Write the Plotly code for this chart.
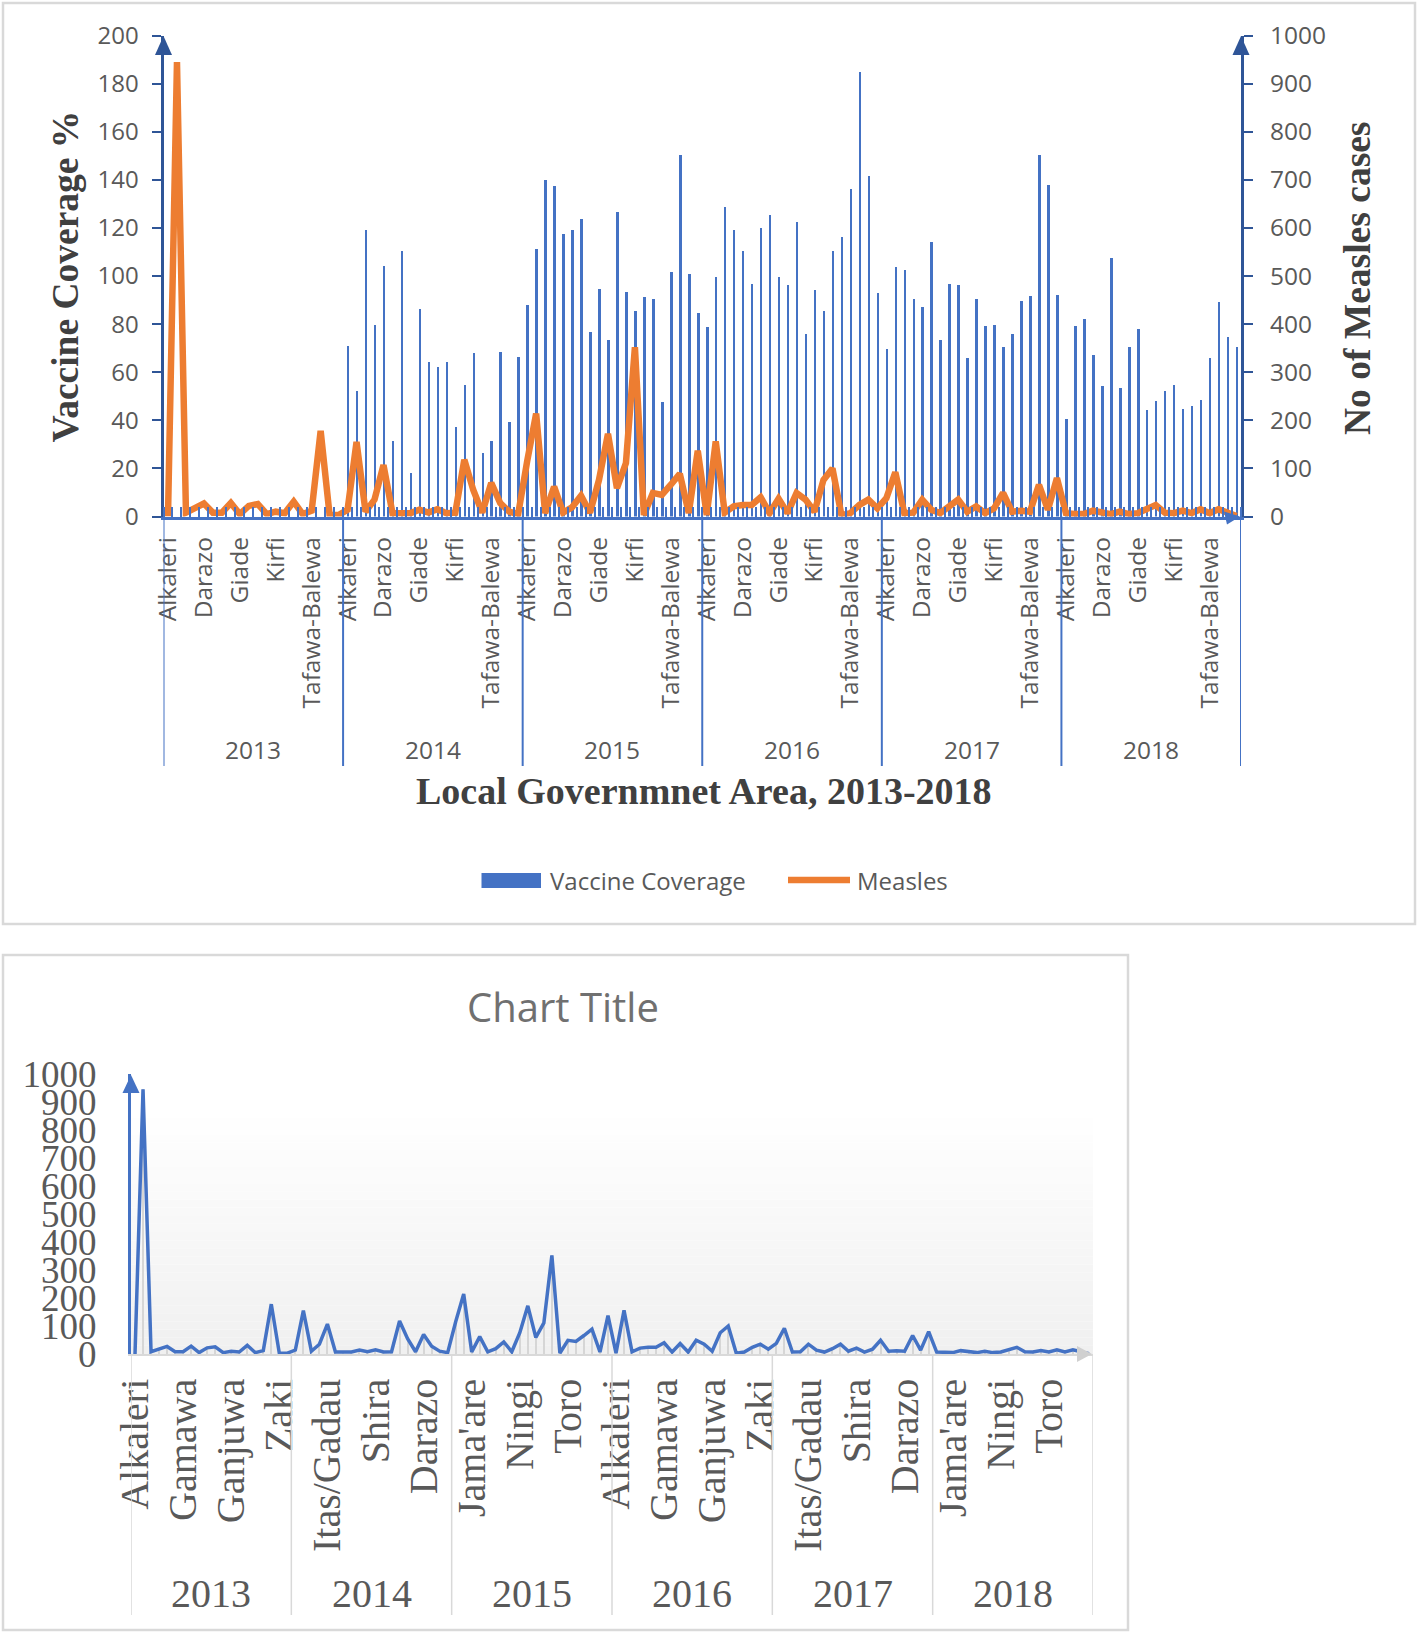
import numpy as np
import plotly.graph_objects as go

W, H = 1418, 1633

years = ["2013", "2014", "2015", "2016", "2017", "2018"]
lga = ["Alkaleri", "Bauchi", "Bogoro", "Damban", "Darazo", "Dass", "Gamawa",
       "Ganjuwa", "Giade", "Itas/Gadau", "Jama'are", "Katagum", "Kirfi", "Misau",
       "Ningi", "Shira", "Tafawa-Balewa", "Toro", "Warji", "Zaki"]
lga_bottom = ["Alkaleri", "Bauchi", "Jama'are", "Bogoro", "Itas/Gadau", "Damban",
              "Gamawa", "Dass", "Ningi", "Giade", "Shira", "Katagum", "Ganjuwa",
              "Kirfi", "Toro", "Misau", "Darazo", "Tafawa-Balewa", "Zaki", "Warji"]

vaccine_2013 = [None, None, None, None, None, None, None, None, None, None,
                None, None, None, None, None, None, None, None, None, None]
vaccine_2014 = [71, 52.5, 119.4, 80, 104.4, 31.7, 110.7, 18.5, 86.3, 64.3,
                62.4, 64.3, 37.4, 54.9, 68.1, 26.8, 31.7, 68.6, 39.3, 66.7]
vaccine_2015 = [88.1, 111.3, 140, 137.5, 117.5, 119.3, 123.8, 76.8, 95, 73.6,
                126.8, 93.6, 85.6, 91.3, 90.6, 47.9, 101.8, 150.7, 101.1, 85]
vaccine_2016 = [78.8, 100, 128.8, 119.3, 110.7, 96.8, 120, 125.6, 100, 96.3,
                122.5, 76.1, 94.3, 85.6, 110.7, 116.3, 136.3, 185.1, 141.9, 93.1]
vaccine_2017 = [70, 103.8, 102.5, 90.6, 87.5, 114.4, 73.6, 96.8, 96.3, 66.1,
                90.6, 79.3, 79.9, 70.6, 76.1, 89.9, 91.8, 150.7, 138.2, 92.4]
vaccine_2018 = [40.6, 79.3, 82.5, 67.4, 54.3, 107.5, 53.6, 70.6, 78.1, 44.3,
                48.1, 52.5, 54.9, 44.9, 46.1, 48.6, 66.1, 89.3, 74.9, 70.6]

measles_2013 = [0, 945, 8, 17, 27, 8, 8, 28, 5, 22, 26, 5, 10, 7, 31, 5, 12, 178, 3, 3]
measles_2014 = [14, 155, 10, 35, 107, 7, 7, 7, 14, 8, 15, 7, 8, 118, 55, 8, 70, 28, 10, 5]
measles_2015 = [115, 214, 7, 62, 8, 19, 43, 8, 76, 172, 59, 111, 352, 3, 49, 45, 66, 89, 7, 137]
measles_2016 = [3, 156, 8, 21, 24, 24, 40, 7, 37, 7, 49, 35, 10, 76, 100, 3, 7, 24, 35, 17]
measles_2017 = [38, 92, 7, 8, 35, 14, 7, 19, 35, 10, 21, 7, 17, 49, 10, 12, 10, 66, 14, 80]
measles_2018 = [7, 5, 5, 12, 7, 5, 10, 5, 7, 17, 24, 8, 7, 12, 7, 15, 7, 15, 8, 1]

vaccine = vaccine_2013 + vaccine_2014 + vaccine_2015 + vaccine_2016 + vaccine_2017 + vaccine_2018
measles = measles_2013 + measles_2014 + measles_2015 + measles_2016 + measles_2017 + measles_2018
n_lga = len(lga)
n = len(years) * n_lga
idx = np.arange(n)

top_tick_idx = [i for i in range(n) if i % n_lga in (0, 4, 8, 12, 16)]
top_tick_txt = [lga[i % n_lga] for i in top_tick_idx]
bot_tick_idx = [i for i in range(n) if i % 6 == 0]
bot_tick_txt = [lga_bottom[i % n_lga] for i in bot_tick_idx]


def px_x(p):
    return p / W


def px_y(p):
    return 1 - p / H


# pixel geometry
TX0, TX1 = 163.5, 1241.0
TY0, TY1 = 516.5, 35.5
BX0, BX1 = 131.0, 1093.0
BY0, BY1 = 1354.0, 1074.0

BLUE = "#4472C4"
DBLUE = "#2F5597"
ORANGE = "#ED7D31"
GREY = "#595959"
SANS = "Open Sans"
SERIF = "Liberation Serif"

fig = go.Figure()
fig.add_trace(go.Bar(x=idx, y=vaccine, xaxis="x", yaxis="y", width=0.28,
                     marker=dict(color=BLUE, line=dict(width=0)),
                     name="Vaccine Coverage", showlegend=False))
fig.add_trace(go.Scatter(x=idx, y=measles, xaxis="x", yaxis="y2", mode="lines",
                         line=dict(color=ORANGE, width=6.5), name="Measles",
                         showlegend=False))
fig.add_trace(go.Bar(x=idx, y=measles, xaxis="x3", yaxis="y3", width=0.14,
                     marker=dict(color="#d6d6d6", line=dict(width=0)),
                     showlegend=False, hoverinfo="skip"))
fig.add_trace(go.Scatter(x=idx, y=measles, xaxis="x3", yaxis="y3", mode="lines",
                         line=dict(color=BLUE, width=3.5), name="Measles",
                         showlegend=False))

shapes = []
annotations = []


def note(text, x, y, font, xref="paper", textangle=0, xanchor="center"):
    return dict(text=text, xref=xref, yref="paper", x=x, y=y, showarrow=False,
                xanchor=xanchor, yanchor="middle", textangle=textangle, font=font)


# panel borders
shapes.append(dict(type="rect", xref="paper", yref="paper",
                   x0=px_x(3), x1=px_x(1415), y0=px_y(924), y1=px_y(3),
                   line=dict(color="#d9d9d9", width=2.5), fillcolor="rgba(0,0,0,0)"))
shapes.append(dict(type="rect", xref="paper", yref="paper",
                   x0=px_x(3), x1=px_x(1128), y0=px_y(1630), y1=px_y(955),
                   line=dict(color="#d9d9d9", width=2.5), fillcolor="rgba(0,0,0,0)"))

# gradient plot-area background for the bottom chart
nb = 30
gtop, gbot = 1110.0, BY0
for k in range(nb):
    c = int(round(255 - 15 * (k + 0.5) / nb))
    shapes.append(dict(type="rect", xref="paper", yref="paper", layer="below",
                       x0=px_x(BX0), x1=px_x(BX1),
                       y0=px_y(gtop + (gbot - gtop) * (k + 1) / nb),
                       y1=px_y(gtop + (gbot - gtop) * k / nb),
                       line=dict(width=0), fillcolor=f"rgb({c},{c},{c})"))

# year separators
for k in range(len(years) + 1):
    xv = -0.5 + n_lga * k
    shapes.append(dict(type="line", xref="x", yref="paper", x0=xv, x1=xv,
                       y0=px_y(TY0), y1=px_y(766), line=dict(color=BLUE, width=2)))
    shapes.append(dict(type="line", xref="x3", yref="paper", x0=xv, x1=xv,
                       y0=px_y(BY0), y1=px_y(1615), line=dict(color="#d9d9d9", width=1.5)))


def tri(points, color):
    d = "M " + " L ".join(f"{px_x(a):.5f},{px_y(b):.5f}" for a, b in points) + " Z"
    return dict(type="path", xref="paper", yref="paper", path=d,
                fillcolor=color, line=dict(width=0))


# arrow heads
shapes.append(tri([(TX0, 36), (TX0 - 8.5, 55), (TX0 + 8.5, 55)], DBLUE))
shapes.append(tri([(TX1, 36), (TX1 - 8.5, 55), (TX1 + 8.5, 55)], DBLUE))
shapes.append(tri([(TX1 - 1, TY0), (TX1 - 17, TY0 - 5), (TX1 - 14, TY0 + 8)], BLUE))
shapes.append(tri([(BX0, 1075), (BX0 - 8.5, 1093), (BX0 + 8.5, 1093)], BLUE))
shapes.append(tri([(BX1 - 1, BY0), (BX1 - 16, BY0 - 8), (BX1 - 16, BY0 + 8)], "#d0d0d0"))

# year labels
for k, yr in enumerate(years):
    annotations.append(note(yr, 9.5 + n_lga * k, px_y(749),
                            dict(family=SANS, size=24.5, color=GREY), xref="x"))
    annotations.append(note(yr, 9.5 + n_lga * k, px_y(1593),
                            dict(family=SERIF, size=40, color=GREY), xref="x3"))

# axis titles
TITLE_FONT = dict(family=SERIF, size=37.5, color="#404040")
annotations.append(note("<b>Vaccine Coverage %</b>", px_x(64.5), px_y(277),
                        TITLE_FONT, textangle=-90))
annotations.append(note("<b>No of Measles cases</b>", px_x(1357), px_y(279),
                        TITLE_FONT, textangle=-90))
annotations.append(note("<b>Local Governmnet Area, 2013-2018</b>", px_x(704), px_y(791),
                        dict(family=SERIF, size=38, color="#404040")))
annotations.append(note("Chart Title", px_x(563), px_y(1006),
                        dict(family=SANS, size=40, color="#707070")))

# legend
shapes.append(dict(type="rect", xref="paper", yref="paper",
                   x0=px_x(481.5), x1=px_x(541), y0=px_y(888), y1=px_y(873),
                   fillcolor=BLUE, line=dict(width=0)))
shapes.append(dict(type="line", xref="paper", yref="paper",
                   x0=px_x(788), x1=px_x(850), y0=px_y(880), y1=px_y(880),
                   line=dict(color=ORANGE, width=6.5)))
annotations.append(note("Vaccine Coverage", px_x(548), px_y(880),
                        dict(family=SANS, size=24, color=GREY), xanchor="left"))
annotations.append(note("Measles", px_x(855), px_y(880),
                        dict(family=SANS, size=24, color=GREY), xanchor="left"))

fig.update_layout(
    template="none",
    width=W, height=H, autosize=False, margin=dict(l=0, r=0, t=0, b=0, pad=0),
    paper_bgcolor="white", plot_bgcolor="rgba(0,0,0,0)", showlegend=False,
    bargap=0, shapes=shapes, annotations=annotations,
    xaxis=dict(domain=[px_x(TX0), px_x(TX1)], range=[-0.5, n - 0.5], anchor="y",
               automargin=False,
               showline=True, linecolor=BLUE, linewidth=2.5, showgrid=False,
               zeroline=False, tickmode="array", tickvals=top_tick_idx,
               ticktext=top_tick_txt, tickangle=-90, ticks="",
               tickfont=dict(family=SANS, size=24.5, color=GREY), ticklabelstandoff=8,
               minor=dict(tickmode="array", tickvals=[i - 0.5 for i in range(n + 1)],
                          ticks="inside", ticklen=10, tickcolor=BLUE, tickwidth=1.5,
                          showgrid=False)),
    yaxis=dict(domain=[px_y(TY0), px_y(TY1)], range=[0, 200], tick0=0, dtick=20,
               anchor="x", automargin=False, showline=True, linecolor=DBLUE, linewidth=3,
               ticks="outside", ticklen=9, tickwidth=2, tickcolor=DBLUE,
               showgrid=False, zeroline=False, ticklabelstandoff=8,
               tickfont=dict(family=SANS, size=24, color=GREY)),
    yaxis2=dict(overlaying="y", side="right", anchor="x", range=[0, 1000], tick0=0,
                automargin=False,
                dtick=100, showline=True, linecolor=DBLUE, linewidth=3,
                ticks="outside", ticklen=9, tickwidth=2, tickcolor=DBLUE,
                showgrid=False, zeroline=False, ticklabelstandoff=12,
                tickfont=dict(family=SANS, size=24.5, color=GREY)),
    xaxis3=dict(domain=[px_x(BX0), px_x(BX1)], range=[-0.5, n - 0.5], anchor="y3",
                automargin=False,
                showline=True, linecolor="#d9d9d9", linewidth=1.5, showgrid=False,
                zeroline=False, tickmode="array", tickvals=bot_tick_idx,
                ticktext=bot_tick_txt, tickangle=-90, ticks="",
                tickfont=dict(family=SERIF, size=40, color=GREY), ticklabelstandoff=7),
    yaxis3=dict(domain=[px_y(BY0), px_y(BY1)], range=[0, 1000], tick0=0, dtick=100,
                anchor="x3", automargin=False,
                showline=True, linecolor=BLUE, linewidth=3, ticks="",
                showgrid=False, zeroline=False, ticklabelstandoff=24,
                tickfont=dict(family=SERIF, size=37, color=GREY)),
)

fig.write_html("out.html", config={"displayModeBar": False},
               post_script="document.body.style.margin='0';document.body.style.overflow='hidden';")
